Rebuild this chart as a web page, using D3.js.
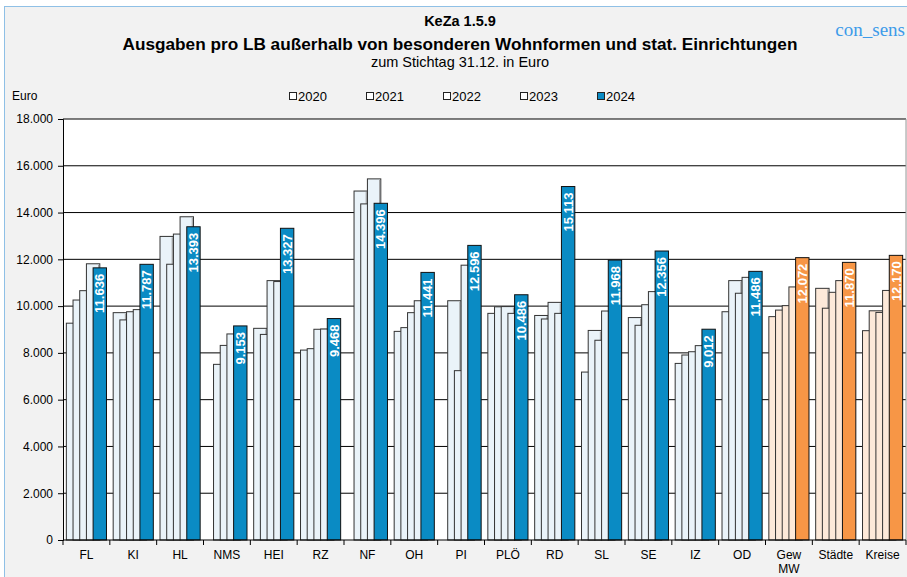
<!DOCTYPE html>
<html><head><meta charset="utf-8">
<script src="https://cdn.jsdelivr.net/npm/d3@7"></script>
<style>
html,body{margin:0;padding:0;background:#fff;}
svg{display:block;font-family:"Liberation Sans",Arial,sans-serif;}
</style></head>
<body><svg id="c" width="907" height="577"></svg>
<script>
const categories = ["FL","KI","HL","NMS","HEI","RZ","NF","OH","PI","PLÖ","RD","SL","SE","IZ","OD","Gew MW","Städte","Kreise"];
const years = ["2020","2021","2022","2023","2024"];
const v2020 = [9270, 9720, 12980, null, 9050, 8120, null, 8920, null, 9690, 9600, 7180, 9510, 7550, 9760, 9550, 10760, 8950];
const v2021 = [10260, 9410, 11790, 7510, 8790, 8180, 14920, 9080, 10230, 9970, 9450, 8960, 9180, 7910, 11090, 9830, 9910, 9800];
const v2022 = [10660, 9760, 13080, 8320, 11090, 9010, 14370, 9720, 7240, 9980, 10160, 8540, 10060, 8050, 10550, 10020, 10590, 9730];
const v2023 = [11810, 9850, 13820, 8810, 11050, 9020, 15440, 10230, 11750, 9690, 9690, 9790, 10620, 8310, 11230, 10820, 11090, 10670];
const v2024 = [11636, 11787, 13393, 9153, 13327, 9468, 14396, 11441, 12596, 10486, 15113, 11968, 12356, 9012, 11486, 12072, 11870, 12170];
const yTicks = [0,2000,4000,6000,8000,10000,12000,14000,16000,18000];
const summaryCats = ["Gew MW","Städte","Kreise"];

const series = [v2020,v2021,v2022,v2023,v2024];
const svg = d3.select("#c");
const W = 907, H = 577;
const M = {left:63, right:906, top:119, bottom:540};

// background
svg.append("rect").attr("x",0).attr("y",0).attr("width",W).attr("height",H).attr("fill","#fff");
svg.append("rect").attr("x",4.5).attr("y",6.5).attr("width",W).attr("height",H).attr("fill","#f2f2f2").attr("stroke","#8fc0e6").attr("stroke-width",1);

const x = d3.scaleBand().domain(categories).range([M.left, M.right]).paddingInner(0).paddingOuter(0);
const y = d3.scaleLinear().domain([0,18000]).range([M.bottom, M.top]);
const unit = x.bandwidth()/7;

// plot area
svg.append("rect").attr("x",M.left).attr("y",M.top).attr("width",M.right-M.left).attr("height",M.bottom-M.top).attr("fill","#fff");

// gridlines
svg.append("g").selectAll("line").data(yTicks.filter(d=>d>0)).join("line")
  .attr("x1",M.left).attr("x2",M.right).attr("y1",d=>y(d)).attr("y2",d=>y(d))
  .attr("stroke","#000").attr("stroke-width",1);
svg.append("line").attr("x1",M.right).attr("x2",M.right).attr("y1",M.top).attr("y2",M.bottom).attr("stroke","#999");

// bars
const isSum = c => summaryCats.includes(c);
const fillLight = c => isSum(c) ? "#fde9d9" : "#eaf3f9";
const fillMain = c => isSum(c) ? "#f79646" : "#0a8bc4";
const barsG = svg.append("g");
series.forEach((vals, k) => {
  const data = categories.map((c,i)=>({c, v: vals[i]})).filter(d=>d.v!=null);
  const g = barsG.append("g");
  g.selectAll("rect").data(data).join("rect")
    .attr("x", d => x(d.c) + unit*0.5 + k*unit)
    .attr("y", d => y(d.v))
    .attr("width", unit*2)
    .attr("height", d => y(0)-y(d.v))
    .attr("fill", d => k===4 ? fillMain(d.c) : fillLight(d.c))
    .attr("stroke", k===4 ? "#111" : "#333")
    .attr("stroke-width", 1);
  if (k < 4) {
    // grey shade line at the right edge of each light bar
    g.selectAll("line").data(data).join("line")
      .attr("x1", d => x(d.c) + unit*0.5 + (k+2)*unit - 1.2)
      .attr("x2", d => x(d.c) + unit*0.5 + (k+2)*unit - 1.2)
      .attr("y1", d => y(d.v)+1).attr("y2", y(0))
      .attr("stroke","#9a9a9a").attr("stroke-width",1);
  }
});

// value labels
svg.append("g").selectAll("text").data(categories.map((c,i)=>({c,v:v2024[i]}))).join("text")
  .attr("transform", d => `translate(${x(d.c)+unit*0.5+4*unit+unit},${y(d.v)+6}) rotate(-90)`)
  .attr("text-anchor","end").attr("dy","0.36em")
  .attr("fill","#fff").attr("font-weight","bold").attr("font-size","13px")
  .text(d => d3.format(",")(d.v).replace(/,/g,"."));

// axes
const yAxis = d3.axisLeft(y).tickValues(yTicks).tickSize(5).tickPadding(5)
  .tickFormat(d => d3.format(",")(d).replace(/,/g,"."));
const gy = svg.append("g").attr("transform",`translate(${M.left},0)`).call(yAxis);
gy.select(".domain").attr("stroke","#000");
gy.selectAll(".tick line").attr("stroke","#000");
gy.selectAll("text").attr("font-size","12px").attr("fill","#000").attr("font-family","Liberation Sans, Arial, sans-serif");

const gx = svg.append("g").attr("transform",`translate(0,${M.bottom})`);
gx.append("line").attr("x1",M.left).attr("x2",M.right).attr("stroke","#000");
gx.selectAll(".tk").data(categories.concat(["_end"])).join("line")
  .attr("x1",(d,i)=>M.left+i*x.bandwidth()).attr("x2",(d,i)=>M.left+i*x.bandwidth())
  .attr("y1",0).attr("y2",5).attr("stroke","#000");
gx.selectAll("text").data(categories).join("text")
  .attr("x", d => x(d)+x.bandwidth()/2).attr("y",19)
  .attr("text-anchor","middle").attr("font-size","12px").attr("fill","#000")
  .each(function(d){
    const parts = d.split(" ");
    d3.select(this).selectAll("tspan").data(parts).join("tspan")
      .attr("x", x(d)+x.bandwidth()/2).attr("dy",(p,j)=>j===0?0:"1.2em").text(p=>p);
  });

// titles
const cx = 460;
svg.append("text").attr("x",cx).attr("y",26).attr("text-anchor","middle").attr("font-weight","bold").attr("font-size","14.5px").text("KeZa 1.5.9");
svg.append("text").attr("x",cx).attr("y",50).attr("text-anchor","middle").attr("font-weight","bold").attr("font-size","17.2px").text("Ausgaben pro LB außerhalb von besonderen Wohnformen und stat. Einrichtungen");
svg.append("text").attr("x",cx).attr("y",67).attr("text-anchor","middle").attr("font-size","14.5px").text("zum Stichtag 31.12. in Euro");
svg.append("text").attr("x",905).attr("y",36).attr("text-anchor","end").attr("font-family","Liberation Serif, serif").attr("font-size","19px").attr("fill","#3d9be9").text("con_sens");
svg.append("text").attr("x",12).attr("y",100).attr("font-size","12px").text("Euro");

// legend
const lg = svg.append("g");
years.forEach((yr,i) => {
  const lx = 289 + i*77;
  lg.append("rect").attr("x",lx+0.5).attr("y",92.5).attr("width",7).attr("height",7)
    .attr("fill", i===4 ? "#0a8bc4" : "#fff").attr("stroke","#222");
  lg.append("text").attr("x",lx+9).attr("y",101).attr("font-size","13px").text(yr);
});
</script></body></html>
